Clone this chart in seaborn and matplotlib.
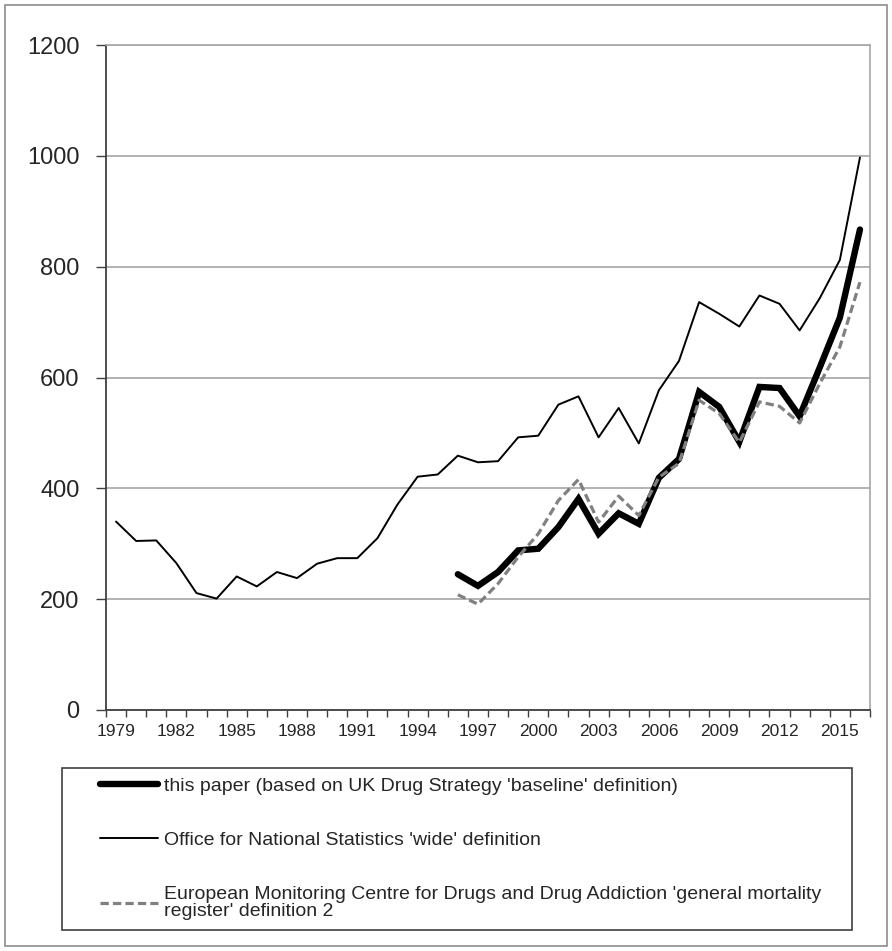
import matplotlib
matplotlib.use("Agg")
import matplotlib.pyplot as plt
import seaborn as sns
import pandas as pd
from matplotlib.patches import Rectangle

# ---- data ----
ons_years = list(range(1979, 2017))
ons_values = [340, 305, 306, 265, 211, 201, 241, 223, 249, 238, 264, 274, 274, 310,
              371, 421, 425, 459, 447, 449, 492, 495, 551, 566, 492, 545, 481, 577,
              630, 736, 715, 692, 748, 733, 685, 743, 812, 997]

paper_years = list(range(1996, 2017))
paper_values = [245, 224, 249, 288, 291, 330, 381, 318, 355, 336, 419, 453, 574,
                547, 484, 583, 581, 530, 618, 708, 867]
emcdda_values = [208, 191, 228, 276, 318, 378, 416, 339, 386, 351, 420, 445, 559,
                 535, 483, 556, 548, 518, 589, 655, 772]

label_paper = "this paper (based on UK Drug Strategy 'baseline' definition)"
label_ons = "Office for National Statistics 'wide' definition"
label_emc = ("European Monitoring Centre for Drugs and Drug Addiction 'general mortality\n"
             "register' definition 2")

y_ticks = [0, 200, 400, 600, 800, 1000, 1200]
x_label_years = list(range(1979, 2017, 3))

df_ons = pd.DataFrame({"year": ons_years, "value": ons_values})
df_paper = pd.DataFrame({"year": paper_years, "value": paper_values})
df_emc = pd.DataFrame({"year": paper_years, "value": emcdda_values})

# ---- style ----
sns.set_style("white")
plt.rcParams["font.family"] = ["Liberation Sans", "DejaVu Sans"]

W, H = 892, 951
fig = plt.figure(figsize=(W / 100, H / 100), dpi=100)
ax = fig.add_axes([106 / W, 1 - 710 / H, 764 / W, (710 - 45) / H])

sns.lineplot(data=df_paper, x="year", y="value", ax=ax, color="black",
             linewidth=4.6, label=label_paper, solid_joinstyle="miter")
sns.lineplot(data=df_ons, x="year", y="value", ax=ax, color="black",
             linewidth=1.4, label=label_ons)
sns.lineplot(data=df_emc, x="year", y="value", ax=ax, color="#808080",
             linewidth=2.3, label=label_emc, linestyle=(0, (2.6, 1.3)))

ax.set_xlim(1978.5, 2016.5)
ax.set_ylim(0, 1200)
ax.set_yticks(y_ticks)
ax.set_yticklabels([str(v) for v in y_ticks], fontsize=17)
ax.set_xticks(x_label_years)
ax.set_xticklabels([str(v) for v in x_label_years], fontsize=12.5)
ax.set_xticks([y - 0.5 for y in ons_years] + [2016.5], minor=True)
ax.tick_params(axis="x", which="major", length=0, pad=10)
ax.tick_params(axis="x", which="minor", length=5, width=1, color="#404040",
               direction="out", bottom=True)
ax.tick_params(axis="y", which="major", length=7, width=1, color="#404040",
               direction="out", left=True, pad=12)
ax.set_xlabel("")
ax.set_ylabel("")

ax.yaxis.grid(True, color="#a6a6a6", linewidth=1.2)
ax.xaxis.grid(False)
ax.set_axisbelow(True)
for side in ["left", "bottom"]:
    ax.spines[side].set_color("#404040")
    ax.spines[side].set_linewidth(1.3)
ax.spines["right"].set_color("#a6a6a6")
ax.spines["right"].set_linewidth(1.2)
ax.spines["top"].set_color("#a6a6a6")
ax.spines["top"].set_linewidth(1.2)

# legend below the plot, inside a framed box
leg = ax.legend(loc="upper left",
                bbox_to_anchor=(100 / W, 1 - 777 / H),
                bbox_transform=fig.transFigure,
                fontsize=14, frameon=False, handlelength=3.0, handletextpad=0.3,
                labelspacing=1.9, borderpad=0, borderaxespad=0)
leg.get_texts()[2].set_linespacing(1.0)

fig.patches.append(Rectangle((62 / W, 1 - 930 / H), (852 - 62) / W, (930 - 768) / H,
                             transform=fig.transFigure, fill=False,
                             edgecolor="#404040", linewidth=1.2))

# outer border of the figure
fig.patches.append(Rectangle((5 / W, 5 / H), (W - 10) / W, (H - 10) / H,
                             transform=fig.transFigure, fill=False,
                             edgecolor="#8c8c8c", linewidth=1.2))

fig.savefig("out.png", dpi=100)
